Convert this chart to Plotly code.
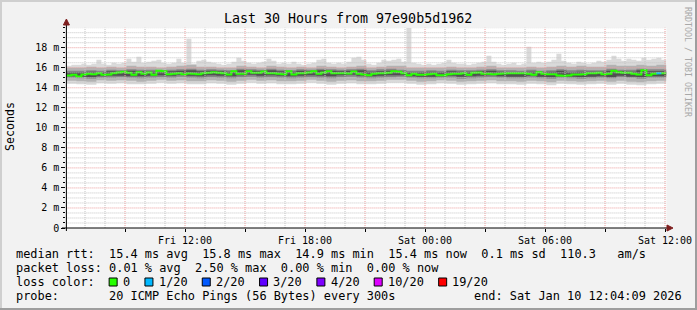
import plotly.graph_objects as go
import pandas as pd

W, H = 697, 310
START = "2026-01-09 06:04:09"
END = "2026-01-10 12:04:09"

# median RTT (ms), one value per 15-minute step
median_ms = [
    15.22, 15.29, 15.12, 15.32, 15.39, 15.36, 15.46, 15.29, 15.32, 15.46,
    15.52, 15.59, 15.49, 15.29, 15.56, 15.39, 15.52, 15.29, 15.69, 15.65,
    15.36, 15.39, 15.46, 15.36, 15.42, 15.39, 15.36, 15.46, 15.49, 15.56,
    15.50, 15.46, 15.32, 15.65, 15.39, 15.39, 15.65, 15.49, 15.49, 15.62,
    15.46, 15.46, 15.39, 15.36, 15.65, 15.32, 15.46, 15.46, 15.52, 15.65,
    15.39, 15.52, 15.65, 15.46, 15.46, 15.46, 15.42, 15.62, 15.39, 15.32,
    15.24, 15.39, 15.46, 15.46, 15.49, 15.65, 15.59, 15.46, 15.26, 15.39,
    15.29, 15.29, 15.36, 15.39, 15.26, 15.26, 15.36, 15.39, 15.39, 15.46,
    15.29, 15.49, 15.52, 15.39, 15.39, 15.36, 15.39, 15.42, 15.46, 15.46,
    15.44, 15.46, 15.39, 15.29, 15.56, 15.39, 15.36, 15.36, 15.22, 15.19,
    15.22, 15.32, 15.32, 15.36, 15.46, 15.46, 15.49, 15.36, 15.39, 15.69,
    15.56, 15.49, 15.49, 15.39, 15.32, 15.75, 15.26, 15.39, 15.46, 15.46,
]

# highest ping of each 15-minute step (ms)
smoke_max_ms = [
    16.2, 16.3, 16.3, 16.4, 16.3, 16.4, 16.8, 16.4, 16.3, 16.5,
    16.4, 16.5, 16.9, 16.6, 17.1, 16.5, 16.6, 16.7, 16.8, 16.5,
    16.4, 16.5, 16.9, 16.5, 18.9, 16.4, 16.7, 16.8, 16.6, 16.5,
    16.4, 16.3, 16.4, 16.6, 17.0, 16.7, 16.5, 16.4, 16.5, 16.6,
    16.9, 16.7, 16.4, 16.5, 16.4, 16.6, 16.4, 16.3, 16.4, 16.5,
    16.8, 16.9, 16.5, 16.4, 16.5, 16.4, 16.6, 17.0, 17.1, 16.8,
    16.4, 16.3, 16.5, 16.8, 16.7, 16.8, 16.9, 16.6, 20.0, 16.5,
    16.4, 16.3, 16.4, 16.3, 16.4, 16.5, 16.8, 16.5, 16.4, 16.4,
    16.3, 16.4, 16.5, 16.6, 17.2, 16.6, 16.4, 16.3, 16.4, 16.5,
    16.3, 16.4, 18.1, 16.5, 16.6, 16.5, 16.6, 16.8, 17.4, 16.7,
    16.5, 16.4, 16.6, 16.5, 16.4, 16.5, 16.7, 16.6, 16.8, 17.2,
    16.9, 16.7, 16.9, 16.8, 16.7, 17.0, 16.8, 16.9, 17.0, 16.8,
]

# smoke percentiles, one value per 30-minute step (ms)
smoke_hi2_ms = [
    16.0, 16.0, 16.1, 16.0, 16.1, 16.0, 16.2, 16.1, 16.1, 16.0,
    16.1, 16.2, 16.3, 16.1, 16.1, 16.0, 16.0, 16.2, 16.1, 16.0,
    16.2, 16.1, 16.0, 16.1, 16.0, 16.2, 16.1, 16.0, 16.1, 16.2,
    16.0, 16.1, 16.2, 16.2, 16.0, 16.0, 16.0, 16.0, 16.1, 16.0,
    16.0, 16.1, 16.2, 16.0, 16.0, 16.0, 16.1, 16.0, 16.1, 16.2,
    16.1, 16.2, 16.1, 16.1, 16.3, 16.2, 16.2, 16.3, 16.2, 16.3,
]
smoke_hi1_ms = [
    15.70, 15.70, 15.75, 15.70, 15.80, 15.75, 15.85, 15.80, 15.80, 15.75,
    15.80, 15.85, 15.90, 15.80, 15.85, 15.80, 15.75, 15.90, 15.85, 15.80,
    15.90, 15.80, 15.75, 15.85, 15.80, 15.90, 15.85, 15.80, 15.85, 15.90,
    15.75, 15.85, 15.90, 15.80, 15.70, 15.70, 15.75, 15.70, 15.80, 15.75,
    15.75, 15.80, 15.85, 15.75, 15.75, 15.70, 15.80, 15.70, 15.75, 15.85,
    15.75, 15.80, 15.75, 15.75, 15.90, 15.80, 15.80, 15.90, 15.85, 15.85,
]
smoke_hi0_ms = [
    15.55, 15.55, 15.60, 15.55, 15.65, 15.60, 15.70, 15.65, 15.60, 15.60,
    15.65, 15.70, 15.75, 15.65, 15.70, 15.65, 15.60, 15.75, 15.70, 15.65,
    15.75, 15.65, 15.60, 15.70, 15.65, 15.75, 15.70, 15.65, 15.70, 15.75,
    15.60, 15.65, 15.70, 15.60, 15.55, 15.55, 15.60, 15.55, 15.65, 15.60,
    15.60, 15.65, 15.70, 15.60, 15.55, 15.55, 15.60, 15.55, 15.60, 15.70,
    15.55, 15.60, 15.60, 15.60, 15.70, 15.65, 15.60, 15.75, 15.65, 15.65,
]
smoke_lo0_ms = [
    15.15, 15.10, 15.05, 15.15, 15.20, 15.20, 15.15, 15.15, 15.20, 15.25,
    15.20, 15.30, 15.20, 15.15, 15.25, 15.20, 15.15, 15.25, 15.30, 15.20,
    15.25, 15.20, 15.15, 15.20, 15.25, 15.20, 15.15, 15.25, 15.30, 15.20,
    15.15, 15.20, 15.25, 15.25, 15.15, 15.10, 15.10, 15.15, 15.20, 15.10,
    15.15, 15.20, 15.25, 15.15, 15.10, 15.10, 15.20, 15.10, 15.05, 15.15,
    15.10, 15.05, 15.10, 15.15, 15.05, 15.20, 15.10, 15.05, 15.15, 15.15,
]
smoke_lo1_ms = [
    15.00, 14.95, 14.90, 15.00, 15.00, 15.05, 15.00, 14.95, 15.00, 15.05,
    15.00, 15.10, 15.00, 14.95, 15.05, 15.00, 14.95, 15.05, 15.10, 15.00,
    15.05, 15.00, 14.95, 15.00, 15.05, 15.00, 14.95, 15.05, 15.10, 15.00,
    14.95, 15.00, 15.05, 15.10, 15.00, 14.95, 14.95, 15.00, 15.00, 14.90,
    14.95, 15.00, 15.05, 15.00, 14.95, 14.95, 15.00, 14.95, 14.90, 15.00,
    14.95, 14.90, 14.95, 15.00, 14.95, 15.05, 15.00, 14.90, 15.00, 15.00,
]
smoke_lo2_ms = [
    14.70, 14.65, 14.60, 14.75, 14.70, 14.75, 14.70, 14.60, 14.70, 14.80,
    14.70, 14.75, 14.65, 14.65, 14.75, 14.70, 14.60, 14.70, 14.80, 14.70,
    14.75, 14.65, 14.65, 14.70, 14.80, 14.70, 14.60, 14.70, 14.75, 14.65,
    14.65, 14.70, 14.80, 14.80, 14.70, 14.60, 14.65, 14.75, 14.70, 14.60,
    14.65, 14.70, 14.75, 14.65, 14.65, 14.60, 14.70, 14.65, 14.55, 14.70,
    14.65, 14.60, 14.65, 14.70, 14.60, 14.70, 14.60, 14.55, 14.65, 14.70,
]
smoke_min_ms = [
    14.40, 14.35, 14.30, 14.45, 14.40, 14.45, 14.35, 14.35, 14.40, 14.50,
    14.40, 14.45, 14.35, 14.35, 14.45, 14.40, 14.30, 14.40, 14.50, 14.40,
    14.45, 14.35, 14.35, 14.40, 14.50, 14.40, 14.30, 14.40, 14.45, 14.35,
    14.35, 14.40, 14.50, 14.50, 14.40, 14.30, 14.35, 14.45, 14.40, 14.30,
    14.35, 14.40, 14.45, 14.35, 14.35, 14.30, 14.40, 14.35, 14.25, 14.40,
    14.35, 14.30, 14.35, 14.40, 14.30, 14.40, 14.30, 14.25, 14.35, 14.40,
]

# (15-minute step index, pings lost out of 20)
loss_events = [(118, 1)]

loss_thresholds = [0, 1, 2, 3, 4, 10, 19]
loss_labels = ["0", "1/20", "2/20", "3/20", "4/20", "10/20", "19/20"]
loss_colors = ["#26ff00", "#00b8ff", "#0059ff", "#5e00ff", "#7e00ff", "#dd00ff", "#ff0000"]

y_tick_vals = [0, 2, 4, 6, 8, 10, 12, 14, 16, 18]
y_tick_text = ["0", "2 m", "4 m", "6 m", "8 m", "10 m", "12 m", "14 m", "16 m", "18 m"]
x_tick_times = ["2026-01-09 09:00", "2026-01-09 12:00", "2026-01-09 15:00", "2026-01-09 18:00",
                "2026-01-09 21:00", "2026-01-10 00:00", "2026-01-10 03:00", "2026-01-10 06:00",
                "2026-01-10 09:00", "2026-01-10 12:00"]
x_tick_text = ["", "Fri 12:00", "", "Fri 18:00", "", "Sat 00:00", "", "Sat 06:00", "", "Sat 12:00"]

title_text = "Last 30 Hours from 97e90b5d1962"
y_title = "Seconds"
watermark = "RRDTOOL / TOBI OETIKER"
legend_rows = [
    "median rtt:  15.4 ms avg  15.8 ms max  14.9 ms min  15.4 ms now  0.1 ms sd  110.3   am/s",
    "packet loss: 0.01 % avg  2.50 % max  0.00 % min  0.00 % now",
]
loss_title = "loss color:"
probe_text = "probe:       20 ICMP Echo Pings (56 Bytes) every 300s"
end_text = "end: Sat Jan 10 12:04:09 2026"

MONO = "DejaVu Sans Mono"
LEG_FS = 11.9
CW = 0.602 * LEG_FS
PAD = 2.5  # annotation inner padding (px)

# ---------------------------------------------------------------
t_end = pd.Timestamp(END)
t_fine = list(pd.date_range(START, periods=len(median_ms), freq="15min"))
t_coarse = list(pd.date_range(START, periods=len(smoke_hi2_ms), freq="30min"))


def stepped(t, v):
    return t + [t_end], list(v) + [v[-1]]


def px(x):
    return x / W


def py(y):
    return 1 - y / H


fig = go.Figure()

bands = [
    ((t_coarse, smoke_min_ms), (t_fine, smoke_max_ms), "#dadada"),
    ((t_coarse, smoke_lo2_ms), (t_coarse, smoke_hi2_ms), "#b2b2b2"),
    ((t_coarse, smoke_lo1_ms), (t_coarse, smoke_hi1_ms), "#858585"),
    ((t_coarse, smoke_lo0_ms), (t_coarse, smoke_hi0_ms), "#505050"),
]
for (tl, lo), (th, hi), col in bands:
    xl, yl = stepped(tl, lo)
    xh, yh = stepped(th, hi)
    fig.add_trace(go.Scatter(x=xl, y=yl, mode="lines", line=dict(width=0, shape="hv"),
                             hoverinfo="skip", showlegend=False))
    fig.add_trace(go.Scatter(x=xh, y=yh, mode="lines", line=dict(width=0, shape="hv"),
                             fill="tonexty", fillcolor=col, hoverinfo="skip", showlegend=False))

xm, ym = stepped(t_fine, median_ms)
fig.add_trace(go.Scatter(x=xm, y=ym, mode="lines", line=dict(color=loss_colors[0], width=2, shape="hv"),
                         showlegend=False))

for idx, lost in loss_events:
    bucket = max(i for i, th in enumerate(loss_thresholds) if th <= lost)
    t1 = t_fine[idx + 1] if idx + 1 < len(t_fine) else t_end
    fig.add_trace(go.Scatter(x=[t_fine[idx], t1], y=[median_ms[idx], median_ms[idx]], mode="lines",
                             line=dict(color=loss_colors[bucket], width=2), showlegend=False))

X0, X1 = 66.4, 666.4
Y0, Y1 = 228.0, 27.7

grid_minor = "#c4c4c4"
grid_major = "#eb9c9c"

fig.update_layout(
    width=W, height=H, autosize=False,
    margin=dict(l=0, r=0, t=0, b=0, autoexpand=False),
    paper_bgcolor="#f2f2f2", plot_bgcolor="#ffffff",
    font=dict(family=MONO, color="#000000"),
    xaxis=dict(
        type="date", range=[START, END], domain=[px(X0), px(X1)], automargin=False,
        tickmode="array", tickvals=x_tick_times, ticktext=x_tick_text,
        tickfont=dict(family=MONO, size=10, color="#000"),
        ticks="outside", ticklen=3, tickcolor="#000",
        showgrid=False, zeroline=False, showline=False, fixedrange=True,
    ),
    yaxis=dict(
        range=[0, 20], domain=[py(Y0), py(Y1)], automargin=False,
        tickmode="array", tickvals=y_tick_vals, ticktext=y_tick_text,
        tickfont=dict(family=MONO, size=10, color="#000"),
        ticks="outside", ticklen=4, tickcolor="#000",
        minor=dict(dtick=0.5, tick0=0, ticks="outside", ticklen=2, tickcolor="#000", showgrid=False),
        showgrid=False, zeroline=False, showline=False, fixedrange=True,
    ),
)

shapes = []
# grid drawn over the smoke, as rrdtool does
hour_lines = pd.date_range("2026-01-09 07:00", END, freq="1h")
major_set = set(pd.to_datetime(x_tick_times))
for t in hour_lines:
    col = grid_major if t in major_set else grid_minor
    shapes.append(dict(type="line", xref="x", yref="paper", x0=t, x1=t, y0=py(Y0), y1=py(Y1),
                       line=dict(color=col, width=1, dash="1px,1px"), layer="above"))
for k in range(1, 41):
    v = k * 0.5
    col = grid_major if v in y_tick_vals else grid_minor
    shapes.append(dict(type="line", xref="paper", yref="y", x0=px(X0), x1=px(X1), y0=v, y1=v,
                       line=dict(color=col, width=1, dash="1px,1px"), layer="above"))

frame = [
    dict(type="line", x0=0, x1=1, y0=py(1), y1=py(1), line=dict(color="#cfcfcf", width=2)),
    dict(type="line", x0=px(1), x1=px(1), y0=0, y1=1, line=dict(color="#cfcfcf", width=2)),
    dict(type="line", x0=0, x1=1, y0=py(H - 1), y1=py(H - 1), line=dict(color="#9e9e9e", width=2)),
    dict(type="line", x0=px(W - 1), x1=px(W - 1), y0=0, y1=1, line=dict(color="#9e9e9e", width=2)),
    dict(type="line", x0=px(62), x1=px(668), y0=py(Y0), y1=py(Y0), line=dict(color="#000", width=1)),
    dict(type="line", x0=px(X0), x1=px(X0), y0=py(231), y1=py(24), line=dict(color="#000", width=1)),
    dict(type="path", path=f"M {px(667)},{py(225)} L {px(673)},{py(228)} L {px(667)},{py(231)} Z",
         fillcolor="#7f1f1f", line=dict(color="#7f1f1f", width=1)),
    dict(type="path", path=f"M {px(63.4)},{py(25)} L {px(66.4)},{py(19)} L {px(69.4)},{py(25)} Z",
         fillcolor="#7f1f1f", line=dict(color="#7f1f1f", width=1)),
]
for s in frame:
    s.update(xref="paper", yref="paper", layer="above")
    shapes.append(s)

annotations = []


def text(s, x, y, size=LEG_FS, anchor="left", color="#000", angle=0):
    annotations.append(dict(text=s.replace(" ", "\u00a0"), x=px(x), y=py(y), xref="paper", yref="paper",
                            xanchor=anchor, yanchor="middle", showarrow=False, textangle=angle,
                            font=dict(family=MONO, size=size, color=color)))


text(title_text, 348, 19, size=13.3, anchor="center")
text(y_title, 10, 127, size=11.6, anchor="center", angle=-90)
text(watermark, 688, 62, size=8.3, anchor="center", color="#a8a8a8", angle=90)

LX = 16
text(legend_rows[0], LX - PAD, 254)
text(legend_rows[1], LX - PAD, 268)
text(loss_title, LX - PAD, 282)
cursor = len(loss_title) + 2
for lab, col in zip(loss_labels, loss_colors):
    bx = LX + cursor * CW
    shapes.append(dict(type="rect", xref="paper", yref="paper", x0=px(bx), x1=px(bx + 8),
                       y0=py(286), y1=py(278), fillcolor=col, line=dict(color="#000", width=1),
                       layer="above"))
    cursor += 2
    text(lab, LX + cursor * CW - PAD, 282)
    cursor += len(lab) + 2
text(probe_text, LX - PAD, 296)
text(end_text, 681 + PAD, 296, anchor="right")

fig.update_layout(shapes=shapes, annotations=annotations)
fig.write_html("out.html")
